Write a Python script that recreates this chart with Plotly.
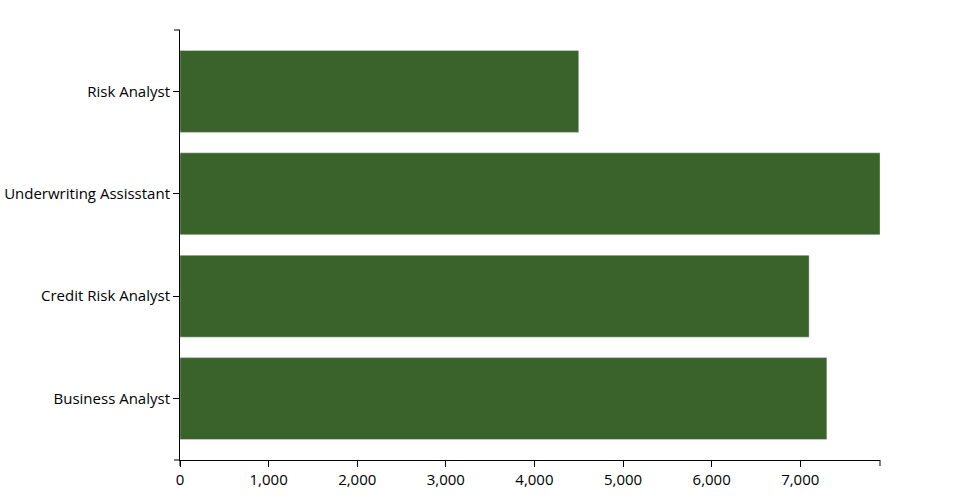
import plotly.graph_objects as go

categories = ["Risk Analyst", "Underwriting Assisstant", "Credit Risk Analyst", "Business Analyst"]
values = [4500, 7900, 7100, 7300]
x_ticks = [0, 1000, 2000, 3000, 4000, 5000, 6000, 7000]
x_max = max(values)

fig = go.Figure()
fig.add_trace(go.Bar(
    y=categories, x=values, orientation="h",
    marker=dict(color="#3a632c", line=dict(color="rgba(255,255,255,0.35)", width=1)),
    hoverinfo="x+y",
))

fig.update_layout(
    width=960, height=500,
    margin=dict(l=180, r=80, t=30, b=40),
    plot_bgcolor="white", paper_bgcolor="white",
    font=dict(family="Open Sans", size=15, color="black"),
    bargap=0.2,
    showlegend=False,
    xaxis=dict(
        range=[0, x_max], tickvals=x_ticks, tickformat=",",
        showgrid=False, zeroline=False,
        showline=True, linecolor="black", linewidth=1,
        ticks="outside", ticklen=6, tickcolor="black",
        automargin=False,
    ),
    yaxis=dict(
        categoryorder="array", categoryarray=categories,
        range=[len(categories) - 0.4, -0.6],
        showgrid=False, zeroline=False,
        showline=True, linecolor="black", linewidth=1,
        ticks="outside", ticklen=6, tickcolor="black",
        automargin=False,
    ),
)
# outer ticks at axis ends (d3-style domain path)
fig.add_shape(type="line", xref="paper", yref="paper", x0=1, x1=1, y0=0, y1=-6/430,
              line=dict(color="black", width=1))
fig.add_shape(type="line", xref="paper", yref="paper", x0=0, x1=-6/700, y0=1, y1=1,
              line=dict(color="black", width=1))
fig.add_shape(type="line", xref="paper", yref="paper", x0=0, x1=-6/700, y0=0, y1=0,
              line=dict(color="black", width=1))
fig.add_shape(type="line", xref="paper", yref="paper", x0=0, x1=0, y0=0, y1=-6/430,
              line=dict(color="black", width=1))

fig.write_html("out.html", config={"displayModeBar": False},
               post_script="document.body.style.margin='0';")
